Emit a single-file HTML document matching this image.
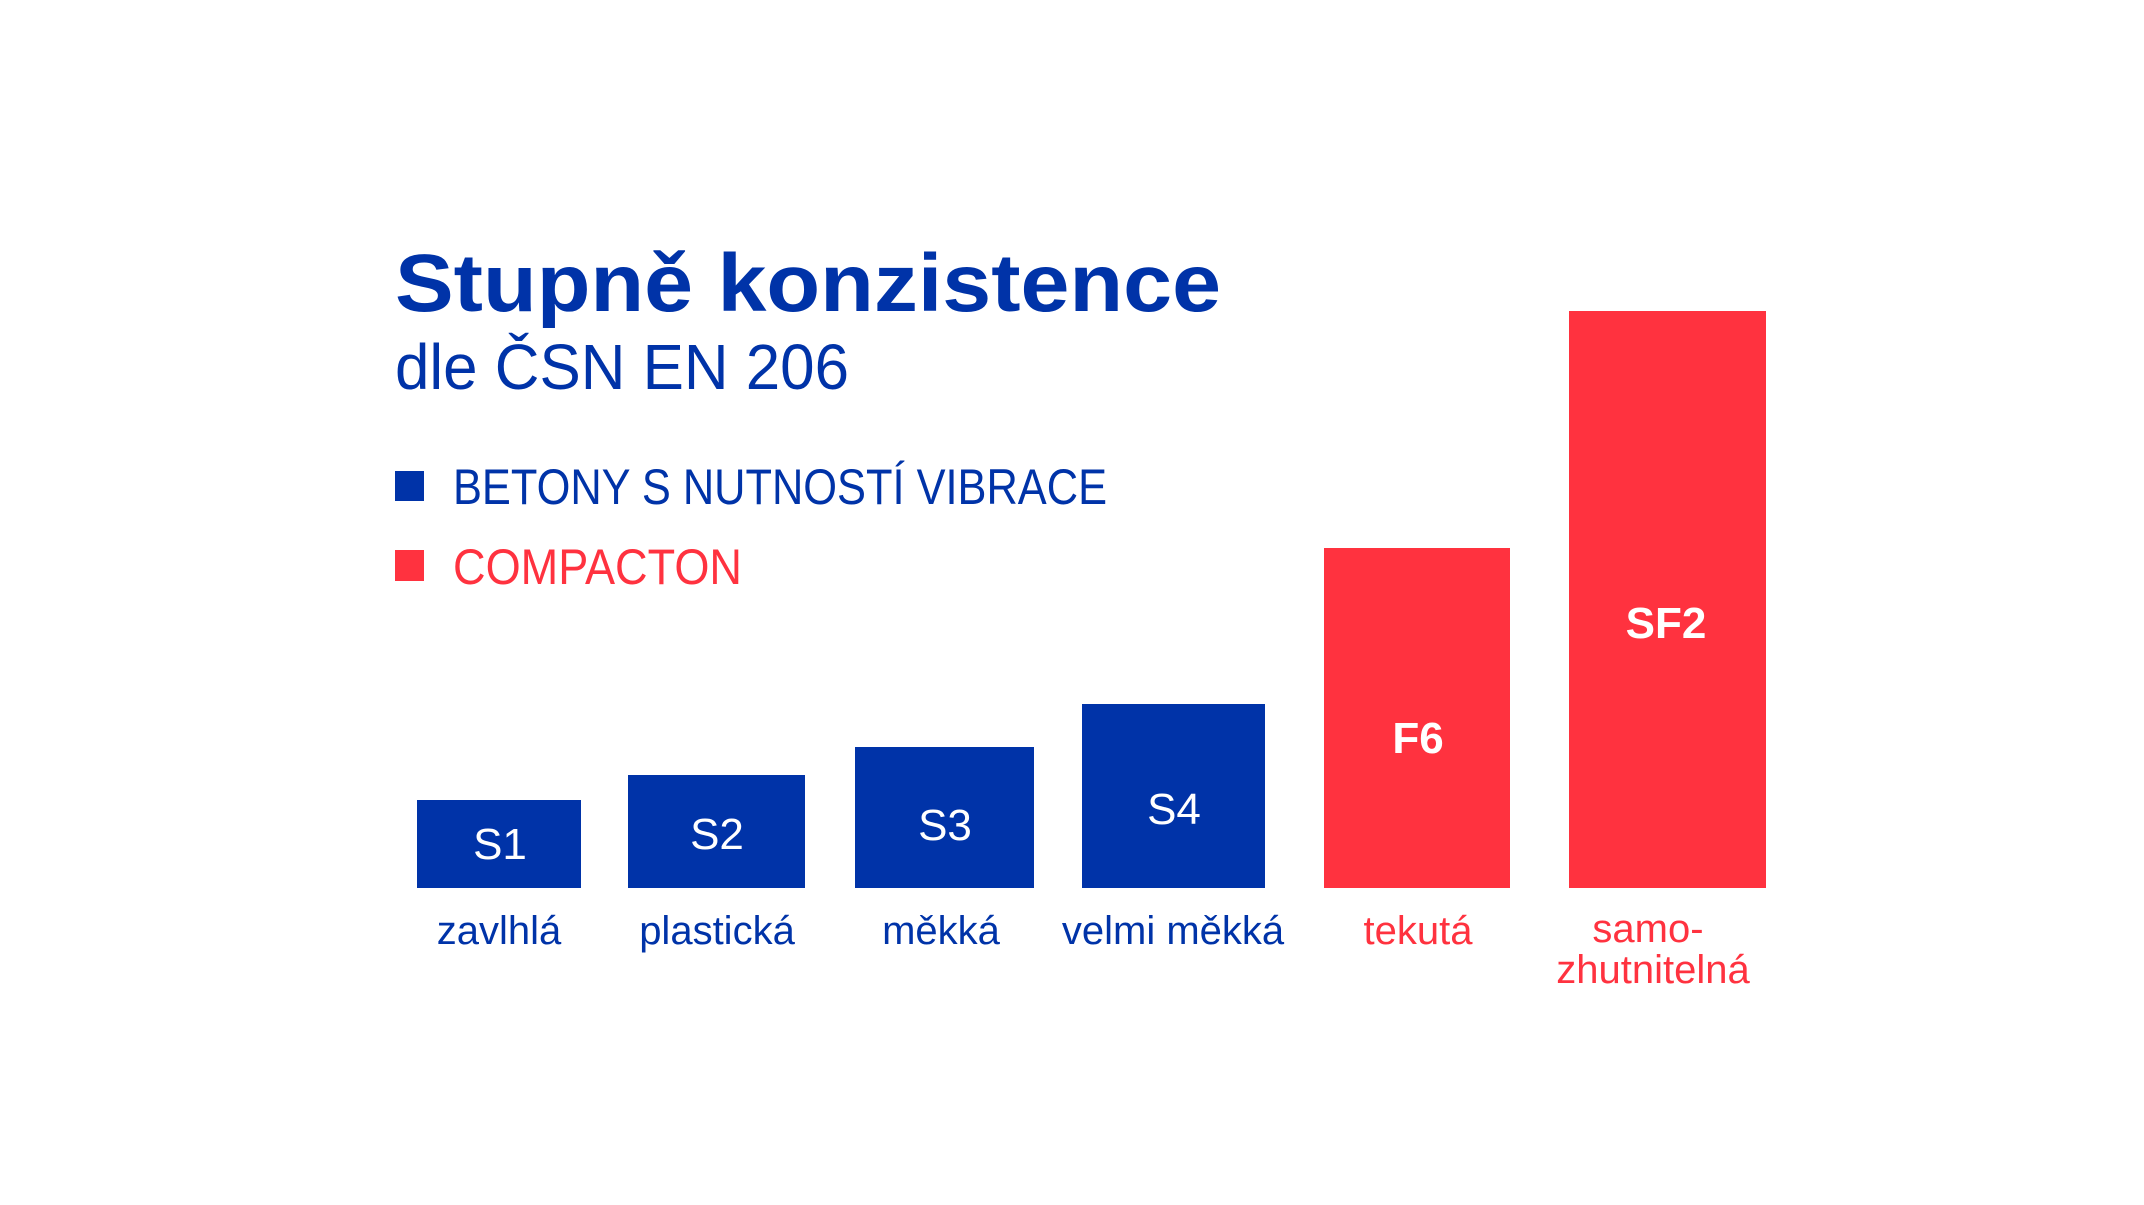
<!DOCTYPE html>
<html><head><meta charset="utf-8"><style>
html,body{margin:0;padding:0;background:#fff;}
svg{display:block;}
text{font-family:"Liberation Sans",sans-serif;}
</style></head><body>
<svg width="2144" height="1205" viewBox="0 0 2144 1205" xmlns="http://www.w3.org/2000/svg">
<rect width="2144" height="1205" fill="#fff"/>
<g fill="#0033a8">
<text x="395" y="311" font-size="82" font-weight="bold" textLength="826" lengthAdjust="spacingAndGlyphs">Stupně konzistence</text>
<text x="395" y="389" font-size="64" textLength="454" lengthAdjust="spacingAndGlyphs">dle ČSN EN 206</text>
<rect x="395" y="471" width="29" height="30"/>
<text x="453" y="504" font-size="50" textLength="654" lengthAdjust="spacingAndGlyphs">BETONY S NUTNOSTÍ VIBRACE</text>
<rect x="417" y="800" width="164" height="88"/>
<rect x="628" y="775" width="177" height="113"/>
<rect x="855" y="747" width="179" height="141"/>
<rect x="1082" y="704" width="183" height="184"/>
<g font-size="40" text-anchor="middle">
<text x="499" y="944">zavlhlá</text>
<text x="717" y="944">plastická</text>
<text x="941" y="944">měkká</text>
<text x="1173" y="944">velmi měkká</text>
</g>
</g>
<g fill="#ff323f">
<rect x="395" y="550" width="29" height="31"/>
<text x="453" y="584" font-size="50" textLength="289" lengthAdjust="spacingAndGlyphs">COMPACTON</text>
<rect x="1324" y="548" width="186" height="340"/>
<rect x="1569" y="311" width="197" height="577"/>
<g font-size="40" text-anchor="middle">
<text x="1418" y="944">tekutá</text>
<text x="1648" y="942">samo-</text>
<text x="1653" y="983">zhutnitelná</text>
</g>
</g>
<g fill="#fff" font-size="44" text-anchor="middle">
<text x="500" y="859">S1</text>
<text x="717" y="849">S2</text>
<text x="945" y="840">S3</text>
<text x="1174" y="824">S4</text>
<text x="1418" y="753" font-weight="bold">F6</text>
<text x="1666" y="638" font-weight="bold">SF2</text>
</g>
</svg>
</body></html>
